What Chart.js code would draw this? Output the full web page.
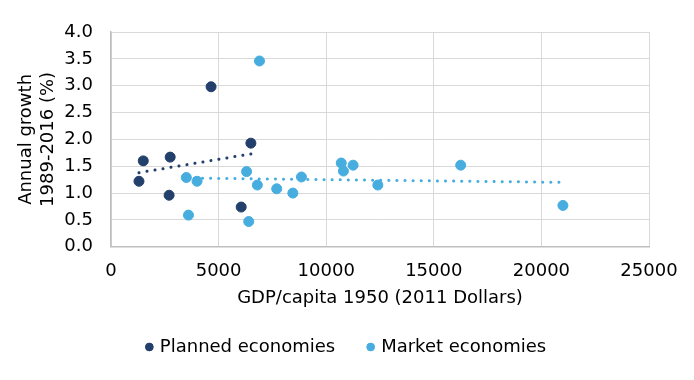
<!DOCTYPE html>
<html><head><meta charset="utf-8">
<script src="https://cdn.jsdelivr.net/npm/chart.js@4/dist/chart.umd.min.js"></script>
<style>html,body{margin:0;padding:0;background:#fff}#wrap{width:694px;height:380px}</style>
</head><body><div id="wrap"><canvas id="c" width="694" height="380"></canvas></div>
<script>
const plannedX = [1300, 1500, 2750, 2700, 4650, 6500, 6050];
const plannedY = [1.22, 1.60, 1.67, 0.96, 2.98, 1.93, 0.74];
const marketX = [6900, 3500, 4000, 3600, 6300, 6800, 6400, 7700, 8450, 8850, 10700, 10800, 11250, 12400, 16250, 21000];
const marketY = [3.46, 1.29, 1.22, 0.59, 1.40, 1.15, 0.47, 1.08, 1.00, 1.30, 1.56, 1.41, 1.52, 1.15, 1.52, 0.77];
const plannedTrendX = [1300, 6500];
const plannedTrendY = [1.38, 1.73];
const marketTrendX = [3500, 21000];
const marketTrendY = [1.28, 1.20];
const seriesNames = ['Planned economies', 'Market economies'];
const xTitle = 'GDP/capita 1950 (2011 Dollars)';
const yTitle = ['Annual growth', '1989-2016 (%)'];

const dark = '#22406B', light = '#47ADDF';
const pts = (xs, ys) => xs.map((x, i) => ({x, y: ys[i]}));
const font = {family: "'DejaVu Sans', Verdana, sans-serif", size: 18, lineHeight: 1.2};

new Chart(document.getElementById('c'), {
  type: 'scatter',
  data: {datasets: [
    {label: seriesNames[0], data: pts(plannedX, plannedY), backgroundColor: dark, borderColor: dark, pointRadius: 5, pointHoverRadius: 5, order: 1},
    {label: seriesNames[1], data: pts(marketX, marketY), backgroundColor: light, borderColor: light, pointRadius: 5, pointHoverRadius: 5, order: 1},
    {label: 'trend1', type: 'line', data: pts(plannedTrendX, plannedTrendY), borderColor: dark, borderWidth: 3, borderDash: [0.1, 8], borderCapStyle: 'round', pointRadius: 0, fill: false, order: 2},
    {label: 'trend2', type: 'line', data: pts(marketTrendX, marketTrendY), borderColor: light, borderWidth: 3, borderDash: [0.1, 8], borderCapStyle: 'round', pointRadius: 0, fill: false, order: 2}
  ]},
  options: {
    responsive: false, animation: false,
    layout: {padding: {left: 0, right: 0, top: 32, bottom: 14}},
    plugins: {
      tooltip: {enabled: false},
      legend: {position: 'bottom', labels: {usePointStyle: true, pointStyle: 'circle', boxWidth: 3, boxHeight: 5.5, color: '#000', font: font, padding: 34,
        filter: it => it.datasetIndex < 2}}
    },
    scales: {
      x: {type: 'linear', min: 0, max: 25000,
        ticks: {stepSize: 5000, color: '#000', font: font, maxRotation: 0, padding: 14, autoSkip: false, callback: v => String(v)},
        grid: {color: '#d9d9d9', lineWidth: 1, drawTicks: false},
        border: {color: '#bfbfbf', width: 1.5},
        title: {display: true, text: xTitle, color: '#000', font: font, padding: {top: -9, bottom: -5}},
        afterFit: s => { s.paddingRight = 45; }},
      y: {min: 0, max: 4,
        ticks: {stepSize: 0.5, color: '#000', font: font, padding: 18, autoSkip: false, callback: v => v.toFixed(1)},
        grid: {color: '#d9d9d9', lineWidth: 1, drawTicks: false},
        border: {color: '#bfbfbf', width: 1.5},
        title: {display: true, text: yTitle, color: '#000', font: font, padding: {top: 16, bottom: 0}},
        afterFit: s => { s.width = 111; }}
    }
  }
});
</script></body></html>
